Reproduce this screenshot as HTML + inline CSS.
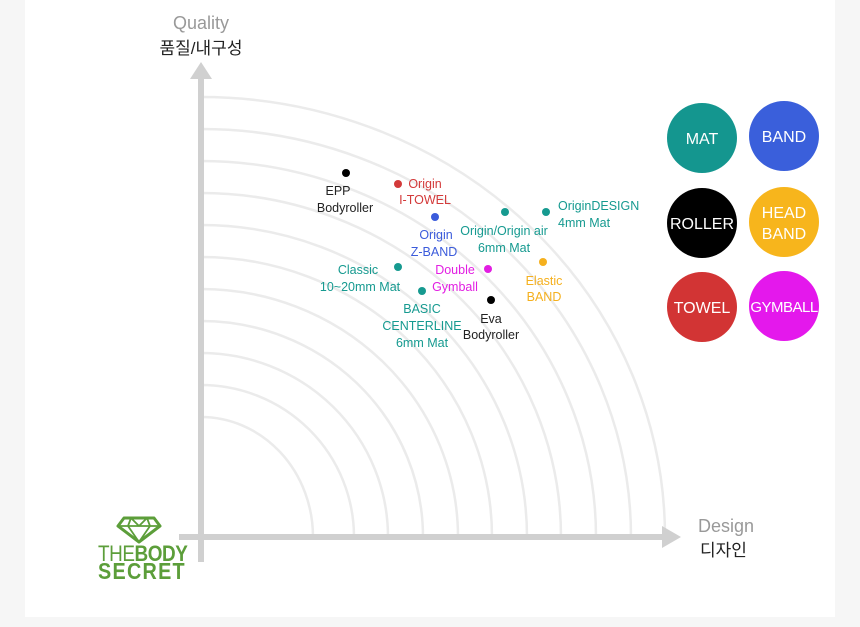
<!DOCTYPE html>
<html><head><meta charset="utf-8"><style>
html,body{margin:0;padding:0;background:#f6f6f6;}
svg{display:block;font-family:"Liberation Sans","Noto Sans CJK KR",sans-serif;}
</style></head><body>
<svg width="860" height="627" viewBox="0 0 860 627" xmlns="http://www.w3.org/2000/svg">
<rect x="0" y="0" width="860" height="627" fill="#f6f6f6"/>
<rect x="25" y="0" width="810" height="617" fill="#fff"/>
<g fill="none" stroke="#ebebeb" stroke-width="2.5">
<path d="M201 97 A464 440 0 0 1 665 537"/>
<path d="M201 129 A430 408 0 0 1 631 537"/>
<path d="M201 161 A395 376 0 0 1 596 537"/>
<path d="M201 193 A360 344 0 0 1 561 537"/>
<path d="M201 225 A326 312 0 0 1 527 537"/>
<path d="M201 257 A291 280 0 0 1 492 537"/>
<path d="M201 289 A257 248 0 0 1 458 537"/>
<path d="M201 321 A222 216 0 0 1 423 537"/>
<path d="M201 353 A187 184 0 0 1 388 537"/>
<path d="M201 385 A153 152 0 0 1 354 537"/>
<path d="M201 417 A112 120 0 0 1 313 537"/>
</g>
<rect x="198" y="76" width="6" height="486" fill="#d0d0d0"/>
<polygon points="201,62 190,79 212,79" fill="#d0d0d0"/>
<rect x="179" y="534" width="485" height="6" fill="#d0d0d0"/>
<polygon points="681,537 662,526 662,548" fill="#d0d0d0"/>
<text x="201" y="29" text-anchor="middle" font-size="18" fill="#999">Quality</text>
<text x="201" y="54" text-anchor="middle" font-size="17" fill="#222">품질/내구성</text>
<text x="698" y="532" font-size="18" fill="#999">Design</text>
<text x="700" y="556" font-size="17" fill="#222">디자인</text>
<g fill="none" stroke="#5c9e3a" stroke-width="3" stroke-linejoin="round">
<polygon points="124,518 154,518 160,526 139,542 118,526"/>
<path d="M118 526 H160 M131 518 L128 526 L139 542 L150 526 L147 518 M131 518 L139 526 L147 518" stroke-width="1.8"/>
</g>
<g fill="#5c9e3a" font-weight="bold" transform="translate(98 0) scale(0.86 1) translate(-98 0)">
<text x="98" y="561" font-size="22" letter-spacing="-0.5"><tspan font-weight="normal">THE</tspan>BODY</text>
<text x="98" y="579" font-size="23" letter-spacing="1.5">SECRET</text>
</g>
<g font-size="12.5" text-anchor="middle">
<circle cx="346" cy="173" r="4" fill="#000"/>
<text x="338" y="195" fill="#222">EPP</text><text x="345" y="212" fill="#222">Bodyroller</text>
<circle cx="398" cy="184" r="4" fill="#d33a3a"/>
<text x="425" y="188" fill="#d33a3a">Origin</text><text x="425" y="204" fill="#d33a3a">I-TOWEL</text>
<circle cx="435" cy="217" r="4" fill="#3b5bdb"/>
<text x="436" y="239" fill="#3b5bdb">Origin</text><text x="434" y="256" fill="#3b5bdb">Z-BAND</text>
<circle cx="505" cy="212" r="4" fill="#169a90"/>
<text x="504" y="235" fill="#169a90">Origin/Origin air</text><text x="504" y="252" fill="#169a90">6mm Mat</text>
<circle cx="546" cy="212" r="4" fill="#169a90"/>
<text x="558" y="210" text-anchor="start" fill="#169a90">OriginDESIGN</text><text x="558" y="227" text-anchor="start" fill="#169a90">4mm Mat</text>
<circle cx="398" cy="267" r="4" fill="#169a90"/>
<text x="358" y="274" fill="#169a90">Classic</text><text x="360" y="291" fill="#169a90">10~20mm Mat</text>
<circle cx="488" cy="269" r="4" fill="#e21ee2"/>
<text x="455" y="274" fill="#e21ee2">Double</text><text x="455" y="291" fill="#e21ee2">Gymball</text>
<circle cx="543" cy="262" r="4" fill="#f5b01e"/>
<text x="544" y="285" fill="#f5b01e">Elastic</text><text x="544" y="301" fill="#f5b01e">BAND</text>
<circle cx="422" cy="291" r="4" fill="#169a90"/>
<text x="422" y="313" fill="#169a90">BASIC</text><text x="422" y="330" fill="#169a90">CENTERLINE</text><text x="422" y="347" fill="#169a90">6mm Mat</text>
<circle cx="491" cy="300" r="4" fill="#000"/>
<text x="491" y="323" fill="#222">Eva</text><text x="491" y="339" fill="#222">Bodyroller</text>
</g>
<g font-size="16" text-anchor="middle" fill="#fff">
<circle cx="702" cy="138" r="35" fill="#14968f"/><text x="702" y="144">MAT</text>
<circle cx="784" cy="136" r="35" fill="#3a5fdb"/><text x="784" y="142">BAND</text>
<circle cx="702" cy="223" r="35" fill="#000"/><text x="702" y="229">ROLLER</text>
<circle cx="784" cy="222" r="35" fill="#f7b51c"/><text x="784" y="218">HEAD</text><text x="784" y="239">BAND</text>
<circle cx="702" cy="307" r="35" fill="#d23434"/><text x="702" y="313">TOWEL</text>
<circle cx="784" cy="306" r="35" fill="#e418ec"/><text x="784" y="312" font-size="15" letter-spacing="-0.5">GYMBALL</text>
</g>
</svg>
</body></html>
